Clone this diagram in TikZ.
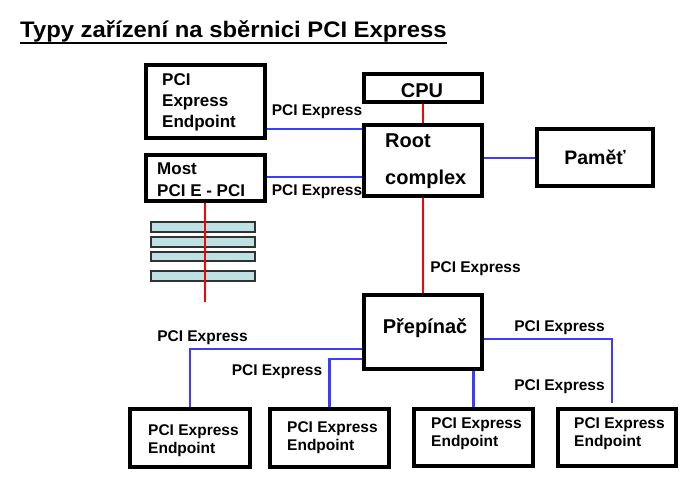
\documentclass[tikz,border=0pt]{standalone}
\usepackage{fontspec}
\setmainfont{Liberation Sans}
\usepackage{graphicx}
\definecolor{lineblue}{RGB}{60,60,255}
\definecolor{linered}{RGB}{255,0,0}
\definecolor{slotfill}{RGB}{190,225,228}
\definecolor{slotdraw}{RGB}{50,50,50}
\newcommand{\fs}[1]{\fontsize{#1}{#1}\selectfont\bfseries}
\tikzset{
  box/.style={draw=black, line width=4pt, fill=white, inner sep=0pt},
  blueline/.style={draw=lineblue, line width=2.4pt},
  redline/.style={draw=linered, line width=2.5pt},
  slot/.style={draw=slotdraw, line width=1.2pt, fill=slotfill},
  lbl/.style={inner sep=0pt, font=\fs{15.5}},
  txt/.style={inner sep=0pt, anchor=base west},
}
\begin{document}
\begin{tikzpicture}[x=1pt,y=-1pt]
\useasboundingbox (0,0) rectangle (700,487);
% title
\node[inner sep=0pt, anchor=base west] (title) at (20,37.7) {\scalebox{1.06}[1]{\fs{22.5}Typy zařízení na sběrnici PCI Express}};
\draw[line width=2.5pt] (title.south west |- 0,43) -- (title.south east |- 0,43);

% slots (drawn before the bridge's red line)
\coordinate (mostend) at (205,302);
\node[slot, minimum width=104pt, minimum height=10pt, inner sep=0pt] (s1) at (203,227) {};
\node[slot, minimum width=104pt, minimum height=10pt, inner sep=0pt] (s2) at (203,242) {};
\node[slot, minimum width=104pt, minimum height=9pt, inner sep=0pt] (s3) at (203,256.5) {};
\node[slot, minimum width=104pt, minimum height=10pt, inner sep=0pt] (s4) at (203,276) {};

% boxes
\node[box, minimum width=119pt, minimum height=73pt] (ep0) at (205.5,101.5) {};
\node[box, minimum width=118pt, minimum height=28pt] (cpu) at (423,88) {};
\node[box, minimum width=118pt, minimum height=71pt] (root) at (423,160.5) {};
\node[box, minimum width=119pt, minimum height=46pt] (most) at (205.5,178) {};
\node[box, minimum width=116pt, minimum height=57pt] (mem) at (595,157.5) {};
\node[box, minimum width=118pt, minimum height=74pt] (sw) at (423,332) {};
\node[box, minimum width=120pt, minimum height=58pt] (e1) at (190,438) {};
\node[box, minimum width=119pt, minimum height=58pt] (e2) at (329.5,438) {};
\node[box, minimum width=119pt, minimum height=57pt] (e3) at (473.5,437.5) {};
\node[box, minimum width=118pt, minimum height=57pt] (e4) at (617,437.5) {};

% red connectors
\draw[redline] (most.south -| mostend) -- (mostend);
\draw[redline] (cpu.south) -- (root.north);
\draw[redline] (root.south) -- (sw.north);

% blue connectors
\draw[blueline] (ep0.east |- 0,129) -- (root.west |- 0,129);
\draw[blueline] (most.east |- 0,177) -- (root.west |- 0,177);
\draw[blueline] (root.east |- 0,158) -- (mem.west |- 0,158);
\draw[blueline] (sw.west |- 0,349) -| (e1.north);
\draw[blueline] (sw.west |- 0,359) -| (e2.north);
\draw[blueline] (sw.south -| e3.north) -- (e3.north);
\coordinate (e4end) at (612,403);
\draw[blueline] (sw.east |- 0,339) -| (e4end);

% connector labels
\node[lbl] (l1) at (317,112) {PCI Express};
\node[lbl] (l2) at (317,192) {PCI Express};
\node[lbl] (l3) at (475.5,269) {PCI Express};
\node[lbl] (l4) at (202.5,338) {PCI Express};
\node[lbl] (l5) at (277,372) {PCI Express};
\node[lbl] (l6) at (559.5,328) {PCI Express};
\node[lbl] (l7) at (559.5,387) {PCI Express};

% box texts
\node[txt] (t01) at (162,85.1) {\fs{17}PCI};
\node[txt] (t02) at (162,106.1) {\fs{17}Express};
\node[txt] (t03) at (162,127.1) {\fs{17}Endpoint};
\node[inner sep=0pt, anchor=base] (tcpu) at (422,97.2) {\fs{20}CPU};
\node[txt] (tr1) at (385,147.2) {\fs{20}Root};
\node[txt] (tr2) at (385,184.2) {\fs{20}complex};
\node[txt] (tm1) at (157,174.1) {\fs{17}Most};
\node[txt] (tm2) at (157,196.1) {\fs{17}PCI E - PCI};
\node[inner sep=0pt, anchor=base] (tmem) at (595,164) {\fs{19.5}Paměť};
\node[inner sep=0pt, anchor=base] (tsw) at (425,333.2) {\fs{20}Přepínač};
\node[txt] (te11) at (148,435.5) {\fs{15.5}PCI Express};
\node[txt] (te12) at (148,453.5) {\fs{15.5}Endpoint};
\node[txt] (te21) at (287,432.5) {\fs{15.5}PCI Express};
\node[txt] (te22) at (287,450.5) {\fs{15.5}Endpoint};
\node[txt] (te31) at (431,428.5) {\fs{15.5}PCI Express};
\node[txt] (te32) at (431,446.5) {\fs{15.5}Endpoint};
\node[txt] (te41) at (574,428.5) {\fs{15.5}PCI Express};
\node[txt] (te42) at (574,446.5) {\fs{15.5}Endpoint};
\end{tikzpicture}
\end{document}
